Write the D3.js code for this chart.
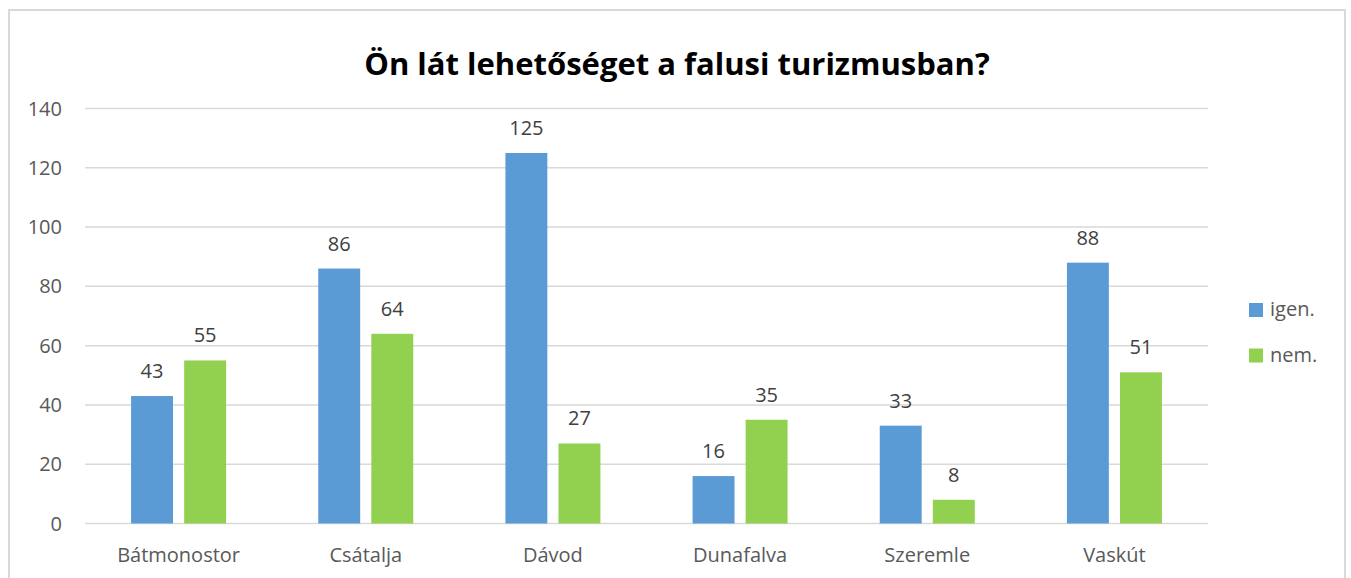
<!DOCTYPE html>
<html>
<head>
<meta charset="utf-8">
<script src="https://cdn.jsdelivr.net/npm/d3@7"></script>
<style>
  body { margin: 0; background: #fff; }
  text { font-family: "Open Sans", sans-serif; }
</style>
</head>
<body>
<div id="chart"></div>
<script>
var categories = ["Bátmonostor", "Csátalja", "Dávod", "Dunafalva", "Szeremle", "Vaskút"];
var seriesNames = ["igen.", "nem."];
var igenValues = [43, 86, 125, 16, 33, 88];
var nemValues = [55, 64, 27, 35, 8, 51];
var yTicks = [0, 20, 40, 60, 80, 100, 120, 140];
var colors = ["#5B9BD5", "#92D050"];

var width = 1351, height = 578;
var plotLeft = 85, plotRight = 1208, plotTop = 108.5, plotBottom = 523.5;

var svg = d3.select("#chart").append("svg").attr("width", width).attr("height", height);

// outer frame of the chart area
svg.append("rect").attr("x", 9).attr("y", 10).attr("width", 1336).attr("height", 600)
  .style("fill", "none").style("stroke", "#d9d9d9").style("stroke-width", 2);

svg.append("text").attr("x", 677).attr("y", 75).attr("text-anchor", "middle")
  .style("font-size", "31px").style("font-weight", "bold").style("fill", "#000")
  .text("Ön lát lehetőséget a falusi turizmusban?");

var y = d3.scaleLinear().domain([0, 140]).range([plotBottom, plotTop]);
var x0 = d3.scaleBand().domain(categories).range([plotLeft, plotRight]);
var groupWidth = 95;
var x1 = d3.scaleBand().domain(seriesNames).range([0, groupWidth]).paddingInner(0.21);

// gridlines
svg.selectAll(".grid").data(yTicks).enter().append("line")
  .attr("x1", plotLeft).attr("x2", plotRight)
  .attr("y1", function(d){ return y(d); }).attr("y2", function(d){ return y(d); })
  .style("stroke", "#d9d9d9").style("stroke-width", 1.5);

// y tick labels
svg.selectAll(".ytick").data(yTicks).enter().append("text")
  .attr("x", 62).attr("y", function(d){ return y(d) + 7; })
  .attr("text-anchor", "end").style("font-size", "20px").style("fill", "#595959")
  .text(function(d){ return d; });

// x labels
svg.selectAll(".xlab").data(categories).enter().append("text")
  .attr("x", function(d){ return x0(d) + x0.bandwidth() / 2; }).attr("y", 562)
  .attr("text-anchor", "middle").style("font-size", "20px").style("fill", "#595959")
  .text(function(d){ return d; });

var series = [igenValues, nemValues];
for (var s = 0; s < 2; s++) {
  var rows = categories.map(function(c, i){ return {cat: c, v: series[s][i], name: seriesNames[s]}; });
  var g = svg.append("g");
  g.selectAll("rect").data(rows).enter().append("rect")
    .attr("x", function(d){ return x0(d.cat) + (x0.bandwidth() - groupWidth) / 2 + x1(d.name); })
    .attr("width", x1.bandwidth())
    .attr("y", function(d){ return y(d.v); })
    .attr("height", function(d){ return y(0) - y(d.v); })
    .style("fill", colors[s]);
  g.selectAll("text").data(rows).enter().append("text")
    .attr("x", function(d){ return x0(d.cat) + (x0.bandwidth() - groupWidth) / 2 + x1(d.name) + x1.bandwidth() / 2; })
    .attr("y", function(d){ return y(d.v) - 18; })
    .attr("text-anchor", "middle").style("font-size", "20px").style("fill", "#404040")
    .text(function(d){ return d.v; });
}

// legend
var legend = svg.selectAll(".leg").data(seriesNames).enter().append("g")
  .attr("transform", function(d, i){ return "translate(1249," + (303 + i * 45.5) + ")"; });
legend.append("rect").attr("width", 14).attr("height", 14)
  .style("fill", function(d, i){ return colors[i]; });
legend.append("text").attr("x", 21).attr("y", 13)
  .style("font-size", "20px").style("fill", "#595959")
  .text(function(d){ return d; });
</script>
</body>
</html>
